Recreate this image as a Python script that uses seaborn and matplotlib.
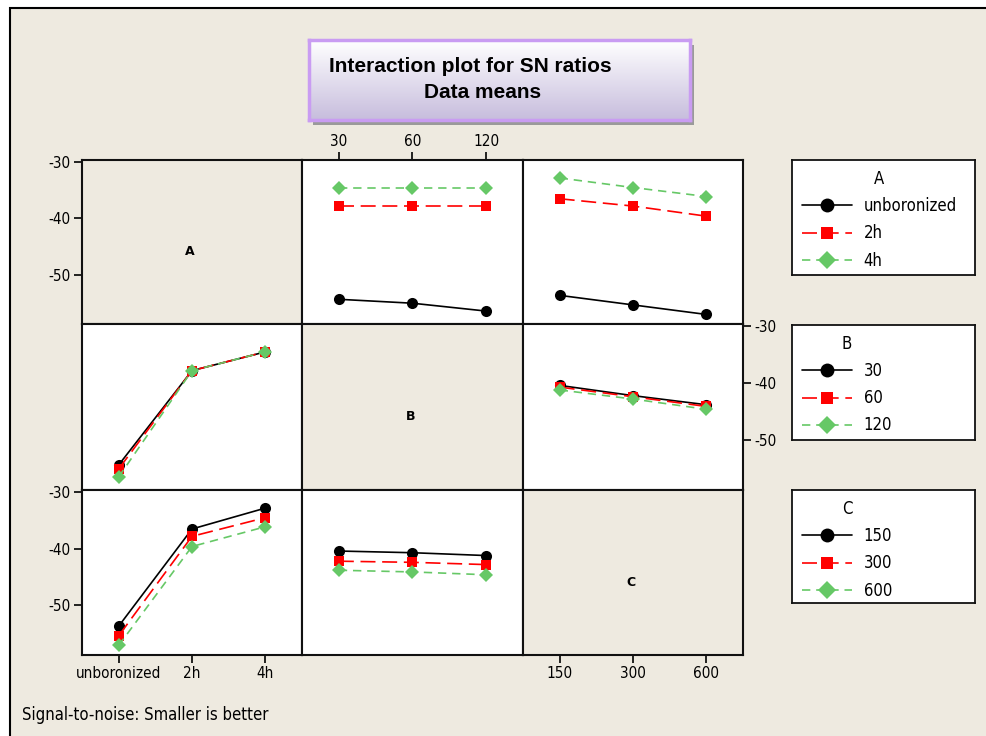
import numpy as np
import pandas as pd
import matplotlib
matplotlib.use("Agg")
import matplotlib.pyplot as plt
import seaborn as sns
from matplotlib.patches import Rectangle
from matplotlib.lines import Line2D
from matplotlib.colors import LinearSegmentedColormap

# factor levels
a_levels = ["unboronized", "2h", "4h"]
b_levels = ["30", "60", "120"]
c_levels = ["150", "300", "600"]

# SN ratio means: rows = level of first factor, columns = level of second
sn_a_b = [[-54.4, -55.1, -56.5],
          [-37.8, -37.8, -37.8],
          [-34.5, -34.5, -34.5]]
sn_a_c = [[-53.7, -55.4, -57.1],
          [-36.5, -37.8, -39.6],
          [-32.8, -34.5, -36.1]]
sn_b_c = [[-40.4, -42.2, -43.8],
          [-40.7, -42.4, -44.1],
          [-41.2, -42.8, -44.6]]

factor_names = ["A", "B", "C"]
factor_levels = [a_levels, b_levels, c_levels]

W, H = 987, 736
BEIGE = "#EEEAE0"
colors = ["black", "#FF0000", "#66C866"]
markers = ["o", "s", "D"]
msizes = [8, 7, 7.5]
dash_styles = ["", (9, 4), (5, 3.5)]

sns.set_style("white")
plt.rcParams["font.family"] = ["DejaVu Sans"]
plt.rcParams["text.color"] = "black"
plt.rcParams["xtick.color"] = "black"
plt.rcParams["ytick.color"] = "black"


def px_rect(x0, y0, x1, y1):
    return [x0 / W, 1 - y1 / H, (x1 - x0) / W, (y1 - y0) / H]


def panel_table(trace_idx, x_idx):
    # sn table with rows = trace levels, cols = x levels
    pair = {(0, 1): sn_a_b, (0, 2): sn_a_c, (1, 2): sn_b_c}
    if (trace_idx, x_idx) in pair:
        tab = np.array(pair[(trace_idx, x_idx)])
    else:
        tab = np.array(pair[(x_idx, trace_idx)]).T
    rows = []
    for i, lev in enumerate(factor_levels[trace_idx]):
        for j in range(3):
            rows.append({"trace": lev, "x": j, "sn": tab[i, j]})
    return pd.DataFrame(rows)


fig = plt.figure(figsize=(W / 100, H / 100), dpi=100, facecolor="white")
fig.patches.append(Rectangle((10 / W, -0.05), 1.0, 1.05 - 8 / H, transform=fig.transFigure,
                             facecolor=BEIGE, edgecolor="black", lw=1.5, zorder=-10))

col_x = [82, 302, 523, 743]
row_y = [160, 324, 490, 655]
tick_font = dict(family="DejaVu Sans", stretch="condensed", size=11, color="black")

for r in range(3):
    for c in range(3):
        ax = fig.add_axes(px_rect(col_x[c], row_y[r], col_x[c + 1], row_y[r + 1]))
        for s in ax.spines.values():
            s.set_linewidth(1.5)
            s.set_color("#111111")
        if r == c:
            ax.set_facecolor(BEIGE)
            ax.text(0.49, 0.44, factor_names[r], transform=ax.transAxes, ha="center",
                    va="center", fontsize=9, fontweight="bold", color="black")
        else:
            ax.set_facecolor("white")
            df = panel_table(r, c)
            levs = factor_levels[r]
            sns.lineplot(data=df, x="x", y="sn", hue="trace", style="trace",
                         hue_order=levs, style_order=levs,
                         palette=dict(zip(levs, colors)),
                         markers=dict(zip(levs, markers)),
                         dashes=dict(zip(levs, dash_styles)),
                         lw=1.2, markersize=8, markeredgewidth=0,
                         legend=False, ax=ax)
            for ln, ms in zip(ax.lines, msizes):
                ln.set_markersize(ms)
        ax.set_xlabel("")
        ax.set_ylabel("")
        ax.set_xticks([])
        ax.set_yticks([])
        ax.set_xlim(-0.5, 2.5)
        ax.set_ylim(-58.8, -29.6)
        tick_kw = dict(direction="out", length=6, width=1.2, pad=2)
        # alternating tick placement like Minitab
        if c == 0 and r in (0, 2):
            ax.set_yticks([-50, -40, -30])
            ax.set_yticklabels(["-50", "-40", "-30"], fontdict=tick_font)
            ax.tick_params(axis="y", left=True, labelleft=True, **tick_kw)
        if c == 2 and r == 1:
            ax.set_yticks([-50, -40, -30])
            ax.set_yticklabels(["-50", "-40", "-30"], fontdict=tick_font)
            ax.tick_params(axis="y", left=False, labelleft=False, right=True,
                           labelright=True, **tick_kw)
        if r == 2 and c in (0, 2):
            ax.set_xticks([0, 1, 2])
            ax.set_xticklabels(factor_levels[c], fontdict=tick_font)
            ax.tick_params(axis="x", bottom=True, labelbottom=True, **tick_kw)
        if r == 0 and c == 1:
            ax.set_xticks([0, 1, 2])
            ax.set_xticklabels(factor_levels[c], fontdict=tick_font)
            ax.tick_params(axis="x", bottom=False, labelbottom=False, top=True,
                           labeltop=True, **tick_kw)

# legends on the right
leg_boxes = [(792, 160, 975, 275), (792, 325, 975, 440), (792, 490, 975, 603)]
for k, (x0, y0, x1, y1) in enumerate(leg_boxes):
    lax = fig.add_axes(px_rect(x0, y0, x1, y1))
    lax.set_facecolor("white")
    lax.set_xticks([])
    lax.set_yticks([])
    for s in lax.spines.values():
        s.set_linewidth(1.3)
        s.set_color("#111111")
    handles = []
    for col, mk, ms, ds in zip(colors, markers, msizes, dash_styles):
        ls = "-" if ds == "" else (0, ds)
        handles.append(Line2D([], [], color=col, marker=mk, markersize=ms + 2,
                              markeredgewidth=0, lw=1.2, linestyle=ls))
    leg = lax.legend(handles, factor_levels[k], title=factor_names[k], loc="upper left",
                     bbox_to_anchor=(0.0, 1.0), frameon=False,
                     prop=dict(family="DejaVu Sans", stretch="condensed", size=12),
                     title_fontproperties=dict(family="DejaVu Sans", stretch="condensed",
                                               size=12),
                     handlelength=3.0, handletextpad=0.7,
                     labelspacing=0.55, borderaxespad=0.2, borderpad=0.4)
    for t in leg.get_texts():
        t.set_color("black")
    leg.get_title().set_color("black")

# title box with gradient
fig.patches.append(Rectangle((313 / W, 1 - 125 / H), 381 / W, 80 / H,
                             transform=fig.transFigure, facecolor="#9A9A9A",
                             edgecolor="none", zorder=-5))
tax = fig.add_axes(px_rect(309, 40, 690, 120))
cmap = LinearSegmentedColormap.from_list("lav", ["#FFFFFF", "#C7BDDD"])
tax.imshow(np.linspace(0, 1, 100).reshape(-1, 1), aspect="auto", cmap=cmap,
           extent=(0, 1, 0, 1), origin="upper")
tax.set_xticks([])
tax.set_yticks([])
for s in tax.spines.values():
    s.set_color("#C99CF2")
    s.set_linewidth(2.5)
fig.text(470 / W, 1 - 66 / H, "Interaction plot for SN ratios", ha="center", va="center",
         fontsize=15, fontweight="bold", color="black",
         family=["Liberation Sans", "DejaVu Sans"])
fig.text(483 / W, 1 - 93 / H, "Data means", ha="center", va="center",
         fontsize=15, fontweight="bold", color="black",
         family=["Liberation Sans", "DejaVu Sans"])

fig.text(22 / W, 1 - 715 / H, "Signal-to-noise: Smaller is better", ha="left", va="center",
         fontsize=12, fontstretch="condensed", color="black")

fig.savefig("out.png", dpi=100, facecolor="white")
